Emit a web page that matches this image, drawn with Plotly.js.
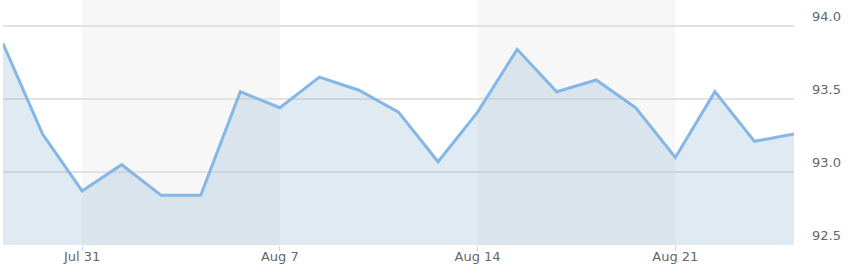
<!DOCTYPE html>
<html>
<head>
<meta charset="utf-8">
<script src="https://cdn.plot.ly/plotly-3.0.1.min.js"></script>
<style>html,body{margin:0;padding:0;background:#fff;}#chart{width:848px;height:278px;}</style>
</head>
<body>
<div id="chart"></div>
<script>
const dates = [
  "2023-07-27","2023-07-28",
  "2023-07-31","2023-08-01","2023-08-02","2023-08-03","2023-08-04",
  "2023-08-07","2023-08-08","2023-08-09","2023-08-10","2023-08-11",
  "2023-08-14","2023-08-15","2023-08-16","2023-08-17","2023-08-18",
  "2023-08-21","2023-08-22","2023-08-23","2023-08-24"
];
const values = [
  93.88, 93.26,
  92.87, 93.05, 92.84, 92.84, 93.55,
  93.44, 93.65, 93.56, 93.41, 93.07,
  93.41, 93.84, 93.55, 93.63, 93.44,
  93.10, 93.55, 93.21, 93.26
];
const tickDates = ["2023-07-31","2023-08-07","2023-08-14","2023-08-21"];
const tickLabels = ["Jul 31","Aug 7","Aug 14","Aug 21"];
const yTicks = [92.5, 93.0, 93.5, 94.0];
const shadedWeeks = [["2023-07-31","2023-08-07"],["2023-08-14","2023-08-21"]];

const shapes = shadedWeeks.map(w => ({
  type: "rect", xref: "x", yref: "paper", x0: w[0], x1: w[1], y0: 0, y1: 1,
  fillcolor: "#f7f7f7", line: {width: 0}, layer: "below"
}));

const trace = {
  x: dates, y: values, type: "scatter", mode: "lines",
  line: {color: "#84b7e5", width: 3},
  fill: "tozeroy", fillcolor: "rgba(131,171,203,0.25)",
  hoverinfo: "x+y"
};

const layout = {
  width: 848, height: 278,
  margin: {l: 3, r: 54, t: 0, b: 33, pad: 0},
  paper_bgcolor: "#ffffff", plot_bgcolor: "rgba(0,0,0,0)",
  showlegend: false,
  font: {family: "DejaVu Sans, sans-serif", size: 13, color: "#666666"},
  xaxis: {
    type: "date",
    range: [dates[0], dates[dates.length - 1]],
    rangebreaks: [{bounds: ["sat", "mon"]}],
    tickvals: tickDates, ticktext: tickLabels,
    ticks: "outside", ticklen: 5, tickcolor: "#ccd6eb", tickwidth: 1,
    ticklabelstandoff: -6,
    showgrid: false, zeroline: false, showline: false,
    tickfont: {size: 13, color: "#666666"}
  },
  yaxis: {
    side: "right",
    range: [92.5, 94.178],
    tickvals: yTicks, tickformat: ".1f",
    showgrid: true, gridcolor: "#e3e3e3", gridwidth: 1.5,
    zeroline: false, showline: false, ticks: "",
    ticklabelshift: -10, ticklabelstandoff: 17,
    tickfont: {size: 13, color: "#666666"}
  },
  shapes: shapes
};

Plotly.newPlot("chart", [trace], layout, {displayModeBar: false, staticPlot: true});
</script>
</body>
</html>
